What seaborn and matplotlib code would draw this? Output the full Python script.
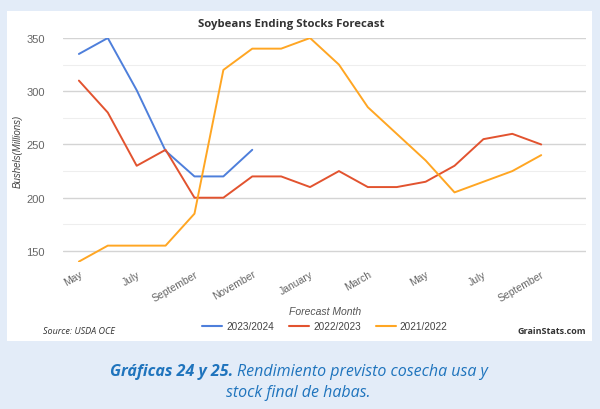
import pandas as pd
import matplotlib.pyplot as plt
import seaborn as sns
from matplotlib.patches import Rectangle

### DATA

months = ["May", "Jun", "Jul", "Aug", "Sep", "Oct", "Nov", "Dec", "Jan",
          "Feb", "Mar", "Apr", "May", "Jun", "Jul", "Aug", "Sep"]
tick_labels = ["May", "July", "September", "November", "January",
               "March", "May", "July", "September"]
yticks = [150, 200, 250, 300, 350]

s2324 = [335, 350, 301, 244, 220, 220, 245]
s2223 = [310, 280, 230, 245, 200, 200, 220, 220, 210, 225, 210, 210,
         215, 230, 255, 260, 250]
s2122 = [140, 155, 155, 155, 185, 320, 340, 340, 350, 325, 285, 260,
         235, 205, 215, 225, 240]

seasons = ["2023/2024", "2022/2023", "2021/2022"]
colors = ["#4e7fdb", "#e2532f", "#ffa623"]

rows = []
for name, vals in zip(seasons, [s2324, s2223, s2122]):
    for i, v in enumerate(vals):
        rows.append({"idx": i, "month": months[i], "value": v, "season": name})
df = pd.DataFrame(rows)

### FIGURE

sns.set_theme(style="white")
plt.rcParams["font.family"] = ["Liberation Sans", "DejaVu Sans"]

fig = plt.figure(figsize=(6, 4.1), dpi=100)
fig.patch.set_facecolor("#e3ecf8")
fig.add_artist(Rectangle((7 / 600, 1 - 342 / 410), 585 / 600, 330 / 410,
                         transform=fig.transFigure, facecolor="white",
                         edgecolor="none", zorder=0))

ax = fig.add_axes([63 / 600, 1 - 262.6 / 410, 523 / 600, 223.6 / 410])
ax.set_facecolor("none")

sns.lineplot(data=df, x="idx", y="value", hue="season", hue_order=seasons,
             palette=colors, linewidth=1.4, sort=False, legend=False, ax=ax)

ax.set_xlim(-0.55, 17.55)
ax.set_ylim(140, 350)
ax.set_yticks(yticks)
ax.set_yticks([175, 225, 275, 325], minor=True)
ax.grid(axis="y", which="major", color="#d4d4d4", linewidth=1)
ax.grid(axis="y", which="minor", color="#eeeeee", linewidth=0.8)
ax.set_axisbelow(True)
for s in ax.spines.values():
    s.set_visible(False)

ax.set_xticks(range(0, 17, 2))
ax.set_xticklabels(tick_labels, rotation=30, ha="right",
                   rotation_mode="anchor", fontsize=7.5, color="#666666")
ax.tick_params(axis="x", length=0, pad=5)
ax.tick_params(axis="y", length=0, pad=13, labelsize=8, labelcolor="#666666")

ax.set_xlabel("")
ax.set_ylabel("")
fig.text(18 / 600, 1 - 151 / 410, "Bushels(Millions)", rotation=90,
         ha="center", va="center", fontsize=7, style="italic", color="#444444")
fig.text(325 / 600, 1 - 312 / 410, "Forecast Month", ha="center", va="center",
         fontsize=7.5, style="italic", color="#555555")

fig.text(291 / 600, 1 - 25 / 410, "Soybeans Ending Stocks Forecast",
         ha="center", va="center", fontsize=8.2, fontweight="bold",
         color="#333333", family=["Open Sans", "DejaVu Sans"])

### LEGEND

handles = [plt.Line2D([], [], color=c, linewidth=1.5) for c in colors]
fig.legend(handles, seasons, loc="center", bbox_to_anchor=(325 / 600, 1 - 327 / 410),
           ncol=3, frameon=False, fontsize=7.2, handlelength=2.0,
           handletextpad=0.4, columnspacing=1.5, labelcolor="#444444")

fig.text(43 / 600, 1 - 332 / 410, "Source: USDA OCE", ha="left", va="center",
         fontsize=6.5, style="italic", color="#333333",
         family=["Open Sans", "DejaVu Sans"])
fig.text(586 / 600, 1 - 332 / 410, "GrainStats.com", ha="right", va="center",
         fontsize=6.5, fontweight="bold", color="#333333",
         family=["Open Sans", "DejaVu Sans"])

### CAPTION

cap_color = "#1f74bd"
cap_font = ["Open Sans", "DejaVu Sans"]
t1 = fig.text(0.5, 1 - 372 / 410, "Gráficas 24 y 25. ", ha="left", va="center",
              fontsize=11.5, fontweight="bold", style="italic", color=cap_color,
              family=cap_font)
t2 = fig.text(0.5, 1 - 372 / 410, "Rendimiento previsto cosecha usa y",
              ha="left", va="center", fontsize=11.5, style="italic",
              color=cap_color, family=cap_font)
fig.canvas.draw()
r = fig.canvas.get_renderer()
w1 = t1.get_window_extent(r).width / 600
w2 = t2.get_window_extent(r).width / 600
start = 299 / 600 - (w1 + w2) / 2
t1.set_x(start)
t2.set_x(start + w1)
fig.text(298 / 600, 1 - 393 / 410, "stock final de habas.", ha="center",
         va="center", fontsize=11.5, style="italic", color=cap_color,
         family=cap_font)

fig.savefig("out.png", dpi=100, facecolor=fig.get_facecolor())
